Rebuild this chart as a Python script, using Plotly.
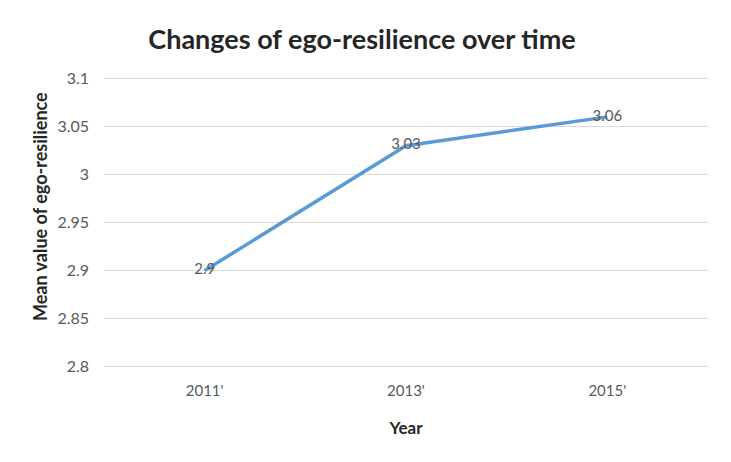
import plotly.graph_objects as go

years = ["2011'", "2013'", "2015'"]
means = [2.9, 3.03, 3.06]
y_ticks = [2.8, 2.85, 2.9, 2.95, 3.0, 3.05, 3.1]
y_tick_labels = ["2.8", "2.85", "2.9", "2.95", "3", "3.05", "3.1"]
point_labels = ["2.9", "3.03", "3.06"]

FONT = "Lato, Carlito, 'Open Sans', sans-serif"

fig = go.Figure()
fig.add_trace(go.Scatter(
    x=years, y=means, mode="lines+text",
    text=point_labels, textposition="middle center",
    textfont=dict(family=FONT, size=15, color="#595959"),
    line=dict(color="#5B9BD5", width=3.5),
    showlegend=False, hoverinfo="skip",
))

fig.update_layout(
    width=731, height=462,
    paper_bgcolor="white", plot_bgcolor="white",
    margin=dict(l=104, r=23, t=77, b=94),
    title=dict(text="<b>Changes of ego-resilience over time</b>",
               x=362 / 731, xanchor="center", y=1 - 40 / 462, yanchor="middle",
               font=dict(family=FONT, size=27, color="#262626")),
    xaxis=dict(type="category", range=[-0.5, 2.5], showgrid=False,
               showline=False, zeroline=False, ticks="",
               ticklabelstandoff=12,
               tickfont=dict(family=FONT, size=15, color="#595959"),
               title=dict(text="<b>Year</b>", standoff=24,
                          font=dict(family=FONT, size=17, color="#262626"))),
    yaxis=dict(range=[2.7985, 3.1015], tickvals=y_ticks, ticktext=y_tick_labels,
               showgrid=True, gridcolor="#D9D9D9", gridwidth=1,
               zeroline=False, showline=False, ticks="",
               ticklabelstandoff=14,
               tickfont=dict(family=FONT, size=16, color="#595959")),
    annotations=[dict(
        text="<b>Mean value of ego-resilience</b>",
        xref="paper", yref="paper",
        x=(40 - 104) / (731 - 104 - 23), y=(462 - 94 - 207) / (462 - 77 - 94),
        xanchor="center", yanchor="middle", textangle=-90, showarrow=False,
        font=dict(family=FONT, size=18, color="#262626"),
    )],
)

fig.write_html("out.html")
